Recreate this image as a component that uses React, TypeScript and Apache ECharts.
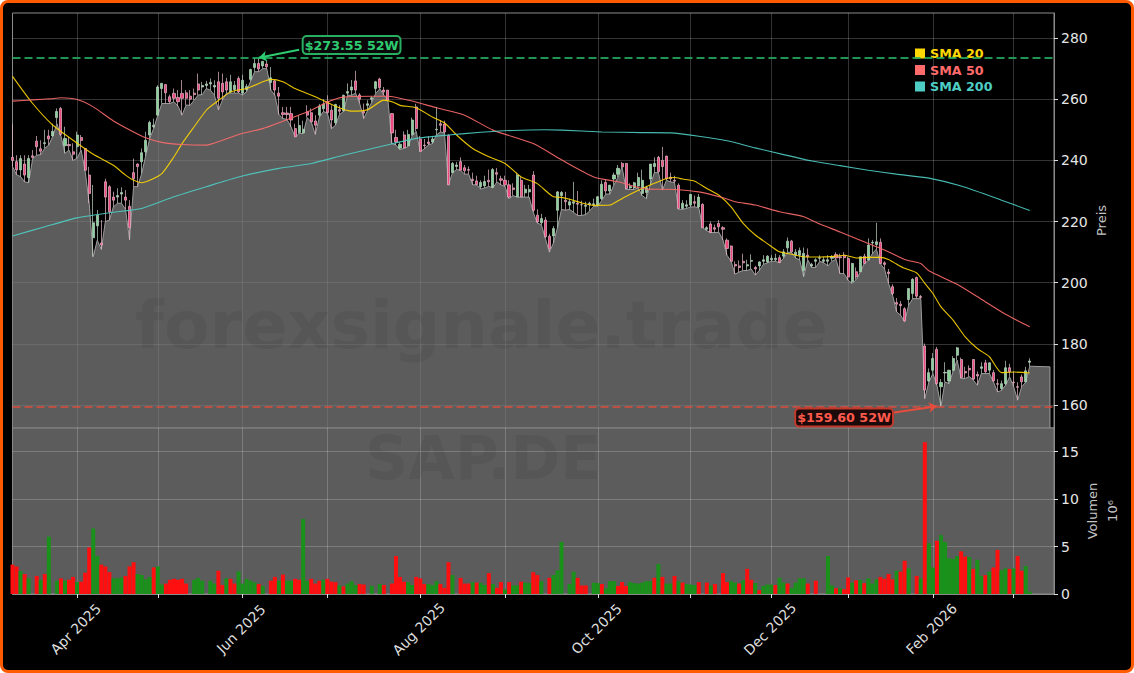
import { useEffect, useRef } from 'react';
import * as echarts from 'echarts';

// month ticks are positions in the list of trading days
const monthTicks = [16, 36, 57, 78, 101, 122, 145, 168, 188, 207, 228, 248];
const monthNames = ['Apr 2025', 'May 2025', 'Jun 2025', 'Jul 2025', 'Aug 2025', 'Sep 2025', 'Oct 2025', 'Nov 2025', 'Dec 2025', 'Jan 2026', 'Feb 2026', 'Mar 2026'];
const labelledMonths = [16, 57, 101, 145, 188, 228];
const dayCount = 259;

const priceTicks = [160, 180, 200, 220, 240, 260, 280];
const volumeTicks = [0, 5, 10, 15];

const high52 = 273.55;
const low52 = 159.6;

// open, high, low, close
const candles = [
  [241, 252, 238, 240], [239.6, 241.7, 235.3, 236.9], [236.9, 241.7, 234.7, 240.6], [238.8, 241.7, 233, 235.2], [234.4, 241.7, 232.7, 240.6],
  [241.5, 243.4, 240.6, 241], [246.3, 248, 241.7, 244.5], [243.8, 246.6, 241.9, 243], [245.5, 250, 244, 245.8], [248, 250, 245, 247],
  [248, 252, 248, 249.5], [254, 257, 252, 256], [257, 257.5, 248, 248.5], [244.8, 251, 242.3, 247.2], [245.2, 247.7, 243.4, 244.8],
  [242.8, 245.6, 240, 242], [244.5, 249.4, 240.7, 248.3], [247.5, 248.3, 243.4, 246.5], [243.9, 244, 236.5, 236.8], [235.2, 237.9, 226, 229.2],
  [214.7, 232, 208.5, 219.6], [218.6, 223.8, 213.9, 222.1], [213, 220.5, 210.9, 212.3], [233, 234, 220, 228], [231.4, 231.9, 220.5, 223.2],
  [228, 229.8, 224.8, 227], [228, 230.9, 226, 228.5], [229, 231.2, 226, 229.5], [228, 230.3, 224, 227], [225, 227, 214, 218],
  [236, 240.6, 231.4, 234], [238.8, 239, 231.4, 238], [239.6, 243.9, 235.7, 242.5], [242.8, 249.4, 241.5, 246.6], [248.3, 253, 247.2, 252.4],
  [251, 253.7, 250.5, 251.5], [254.8, 264.6, 254.8, 264], [263.5, 265.2, 258.6, 265.2], [264.8, 264.9, 258.6, 262.1], [260.8, 261.5, 258.6, 259.2],
  [261.9, 263.5, 259.2, 260.3], [260.6, 263, 257.8, 259.2], [261.9, 266.3, 254.8, 260.3], [262.1, 263, 258.1, 260.3], [261, 263, 258, 260],
  [262, 263.5, 259.7, 261.5], [265, 268.4, 261.4, 263], [264, 265.7, 261.5, 264.5], [264.5, 266, 263.5, 265], [265, 266.8, 263, 265.5],
  [264, 266.2, 261.4, 264.5], [265.7, 269, 256.5, 260.3], [265.2, 268.4, 259.7, 262.4], [265.7, 267, 262, 263], [262.4, 268, 262, 265.7],
  [263.2, 266, 262, 264.6], [266.8, 267.5, 262, 262.4], [262, 268, 261.4, 266.2], [263.2, 265, 262.5, 264.2], [266.5, 270, 266, 269.7],
  [270.4, 273.5, 269, 271.7], [271.7, 273.55, 269, 269.9], [270.9, 272.4, 270, 272.4], [271.5, 272.8, 270, 270.6], [265.5, 270.5, 263, 267],
  [266, 266.5, 261.3, 263], [262, 264, 255, 261], [255.6, 257.5, 253.7, 255], [255.5, 257.5, 253.4, 255], [255.3, 257.5, 251, 253.2],
  [250.4, 252, 247.7, 247.7], [249.1, 254.8, 248.8, 251.4], [249, 253, 248.8, 250.2], [255.9, 258, 254, 254.8], [255.6, 257, 252.6, 252.6],
  [252.9, 254.8, 248.5, 251.5], [254.8, 258.5, 254, 257.8], [256.9, 260, 256, 258.4], [259.2, 261.3, 255.5, 255.6], [256.4, 258, 250.4, 253.2],
  [252.3, 258.5, 251.5, 258.3], [256.6, 258, 255, 256.1], [256.2, 261.5, 256, 261.3], [262, 265.2, 261.3, 262.5], [263, 266.3, 261.3, 264],
  [266, 269.3, 262, 263], [261.4, 262, 258.6, 260], [256, 258.6, 253.7, 255.5], [258, 259.7, 256.4, 258.5], [260, 261, 259, 260.5],
  [263.5, 266, 262, 265.7], [266.6, 267, 263.4, 263.8], [263, 264, 261.3, 262.4], [263, 263, 259.7, 259.7], [255.3, 255.5, 245.5, 249],
  [247.5, 250, 245, 246], [244, 246, 243.5, 245.3], [248.3, 249.5, 244, 244.1], [244.8, 250, 244.5, 248.5], [248.5, 254, 248, 253.2],
  [257.5, 258.5, 249.5, 250.4], [247, 248, 242.8, 243], [245, 247, 243.8, 244.8], [246, 248, 245, 245.5], [246, 248, 245.5, 247],
  [250, 257.5, 248.3, 250.2], [252, 253.2, 249.3, 251.5], [251.9, 253, 249, 249.3], [248.2, 248.5, 232, 232], [236, 239.5, 236, 239],
  [238, 239.5, 237, 238.5], [239.6, 241, 236.8, 236.8], [237.6, 238.5, 235.5, 236.6], [237, 238, 235.5, 236.8], [233.8, 236, 232, 233.4],
  [233.3, 235, 232, 232.1], [231.4, 233.5, 230.6, 232.8], [231.7, 235, 231, 233.1], [233.5, 237, 231.5, 233], [231.2, 237.5, 231, 237],
  [236, 237.5, 233, 235.5], [234, 235, 232, 233.5], [233.5, 235, 231.5, 232], [232, 233.5, 227.5, 228], [231, 232.5, 228.5, 230.5],
  [228.1, 236, 228, 235.2], [233.5, 234.5, 228, 228.1], [229.4, 232, 228, 230.6], [229.7, 232, 228, 230.5], [235.2, 236.5, 223, 223.7],
  [222.1, 224, 219.5, 219.9], [219.6, 222.5, 219, 221], [220.5, 221.5, 214.5, 215], [215.2, 216, 210, 211.2], [215.3, 218.5, 213, 217.7],
  [223.7, 230, 218, 229.7], [228.5, 230, 224, 229.5], [227, 229.7, 223.7, 226.5], [225.4, 227.5, 224, 226.5], [226, 233, 223, 226.5],
  [226, 230, 222, 225.7], [225.5, 226.8, 222, 225.5], [225, 226.5, 222.3, 225.3], [225.5, 226.5, 223.5, 226], [225.5, 227.5, 225, 225.8],
  [225.4, 228.4, 225, 228.1], [227.5, 233.5, 227, 232.2], [232.8, 233.8, 229, 230], [230, 232, 229, 231.9], [233.9, 236, 232, 235.2],
  [235.5, 238.5, 234.5, 237.4], [239, 239.5, 237.9, 237.9], [239, 239.2, 230.5, 230.8], [231, 232.5, 230.5, 231.5], [231, 233, 230.5, 232.7],
  [231.6, 236, 231, 234.4], [229.2, 237, 228.5, 233.5], [229.5, 231.7, 227.5, 231.1], [233.9, 238.8, 232, 238.8], [238, 241, 236, 239],
  [241, 241.5, 236, 236.3], [240, 244.4, 230.3, 238], [241.4, 241.5, 233.5, 234], [234.5, 236, 233, 234], [233.5, 235, 232.7, 233.2],
  [231.9, 232.5, 224, 224.3], [224.3, 227, 224, 226], [225, 227, 224.3, 225.5], [225.4, 229, 224.8, 228.9], [226.5, 228.5, 224.8, 226],
  [224.8, 229, 224.5, 228], [225.6, 226, 218, 218], [217.5, 218.5, 217, 218], [219.2, 220, 216.4, 216.4], [218, 219, 216.4, 217.5],
  [219.4, 220.5, 216.5, 218.3], [218, 218.5, 214, 217.5], [213.9, 214.5, 209, 211.2], [212, 212.2, 207, 207], [206, 207, 202.8, 205.5],
  [205.5, 207.3, 203.5, 205], [207, 209.5, 204, 206.5], [205.5, 207.5, 204, 205.9], [207, 209.3, 204.5, 207.3], [205, 205.5, 202.5, 204.5],
  [205.5, 207, 204, 206.8], [207, 209, 206, 207.5], [206.8, 209, 206.5, 208.7], [207.5, 209, 207, 208], [207.5, 209.5, 207, 208],
  [208.2, 209, 206.5, 206.6], [208.7, 211, 208, 210.1], [211.4, 214.8, 210, 213.6], [213.6, 214, 209.9, 210.1], [209, 211, 208, 210],
  [209, 211.5, 207.5, 210.5], [203.9, 211.5, 202, 209.6], [209, 211.2, 207.5, 208.5], [205.5, 206.5, 205, 206], [207, 208, 205, 207.5],
  [208, 209, 207, 208.2], [207, 208.5, 206.5, 207.5], [207, 209, 205.5, 207.5], [208, 209, 207, 208.5], [209.2, 210, 207.7, 208.1],
  [208.5, 209.5, 203, 208.2], [209, 210, 203, 208.2], [207.9, 208.5, 200.8, 201.9], [200.3, 206.5, 199.8, 206.3], [203.6, 205, 201, 201.9],
  [203.6, 208.5, 203.5, 208.5], [208.7, 209.5, 206.3, 206.3], [207.4, 214.5, 207.3, 212.3], [213, 214, 209.5, 213.2], [212.5, 219.6, 211, 213.4],
  [213.2, 214.5, 206.2, 206.3], [206.5, 207, 204.5, 206], [203.5, 204.5, 199.8, 203], [198.7, 199.5, 196, 196.5], [193.5, 195, 190.5, 193],
  [193, 194, 189.4, 192.5], [191.5, 192, 187.3, 187.5], [194.5, 198, 192.7, 198.1], [196.5, 201.5, 194.8, 201.1], [201.7, 202, 194.8, 195.6],
  [195.5, 196, 194.8, 195.2], [179.3, 180.1, 162.1, 164.9], [167.9, 172, 167.5, 170.6], [171.4, 177, 170.3, 175.2], [178.2, 179, 166.5, 167],
  [166, 168.5, 159.6, 167.4], [170.5, 174, 167.6, 170.7], [167.9, 171.5, 167, 171.4], [171.4, 176, 171, 175.2], [176.3, 179, 174.7, 178.7],
  [174.9, 175.5, 168.7, 169], [171, 172.5, 168.7, 170.5], [172, 173, 169.3, 171.5], [174.9, 175, 168.2, 168.5], [170, 171, 166.5, 169.5],
  [172, 174, 170.3, 172.5], [173.8, 174.8, 170.3, 170.9], [171.4, 174, 170.3, 173.8], [170.6, 171.5, 167.6, 167.9], [167, 168.5, 164.3, 166.8],
  [165.4, 168, 164.8, 167], [167, 174.5, 166.5, 172.2], [172.2, 173.5, 169.2, 170.9], [167.5, 171, 166, 167.3], [166, 167.5, 161.6, 165.8],
  [169.2, 170, 166, 167.6], [167.6, 172.5, 167.5, 171.2], [174, 175.3, 172.7, 174.4],
];

// in millions, negative = red bar
const volumes = [
  -3.1, -2.9, 2.4, -2.1, 1.65, 0, -1.9, 1.5, -2.1, 6.05,
  0, 1.4, -1.65, 1.4, -1.5, -1.8, 1.25, -1.3, -2.25, -4.9,
  6.9, 4, -3.1, -2.9, -2.3, 1.65, 1.65, 1.75, -1.9, -2.9,
  -3.35, 2.1, 2, 1.55, 1.8, -2.8, 2.9, 1, -1.1, -1.5,
  -1.6, -1.5, -1.6, -1.1, 0, 1.5, 1.7, 1.4, 0, 1.4,
  1.1, -2.45, -0.95, 1.65, -1.6, -1.1, 2.4, 1.1, 1.6, 1.4,
  1.2, -1.05, 0.85, 0, -1.4, -1.8, 1.4, -2.05, 1.4, 1.4,
  -1.6, -1.5, 7.9, 1.4, -1.6, -1.1, -1.4, 1.5, -1.6, -1.3,
  -1.25, 0.9, -0.8, 1.1, 1.35, 0.95, -1.05, -1, 0, 0.85,
  0, 1.05, -0.95, 0, -1.1, -4, -1.8, -1.3, 1.25, 0.95,
  -1.8, -1.65, -1.05, 1.05, 0.95, 1.35, -1.05, -0.65, -3.35, 2,
  0, -1.7, -1.1, -1.1, 1.25, -1.2, 1.15, 0.95, -2.2, 1.05,
  -0.65, -1.25, 0.5, -1.25, 0.9, 0.9, -1.3, 1.2, 1.15, -2.3,
  -2, 1.35, 0, -1.7, 2, 2.5, 5.5, 0, 1.05, 2.35,
  -1.7, -0.9, -0.9, 0, 1.2, 1.15, -1.05, 0.6, 1.35, 1.35,
  -0.85, -1.25, -0.85, 1.25, 1.15, 1.1, 1.2, 1.35, 1.35, -1.7,
  3.15, -1.8, 1.1, 1.1, -1.9, 1.35, -1.2, 1.05, 1, 0.95,
  -1.25, 0, -1.2, 0.9, -1.05, 0, -2.2, -1.25, 1.35, 1.2,
  -1.1, 1.45, -2.65, -1.5, 1.15, -0.4, 0.85, 1, 1, -0.95,
  1.7, 1.2, -1.1, 0.65, 1.2, 1.65, 1.65, -1.1, 0, -1.4,
  0, 0, 4, 0.9, -0.6, 0.6, -0.5, -1.75, 1.2, -1.45,
  1.5, -1.15, 1.65, 1.1, 1.55, -1.8, -1.6, -2.1, -1.55, 2.45,
  -2.35, -3.5, 2.7, 0, -1.9, 1.65, -16, 5.35, 2.8, -5.6,
  6.2, 5.5, 3.75, 3.7, 4, -4.5, -3.95, 3.9, -2.65, 3.6,
  1.9, -2, 2.35, -2.8, -4.65, 2.5, 2.7, -2.65, 2.7, -4,
  -2.45, 2.95, 0.25,
];

// [day, value]
const sma20 = [
  [0, 267.5], [5, 258.6], [10, 251.5], [15, 246.6], [20, 242], [25, 238.4], [28, 235.2], [30, 233.5], [32, 232.7], [34, 233.5],
  [37, 235.7], [40, 241.2], [42, 245.5], [45, 251], [48, 256.4], [50, 258.6], [54, 262.4], [58, 263.5], [62, 265.7], [64, 266.5],
  [67, 265.7], [70, 263.5], [75, 260.8], [80, 257.7], [84, 256.1], [88, 256.6], [92, 259.7], [94, 259.2], [96, 258], [100, 257.2],
  [104, 254.2], [107, 252.3], [110, 248.3], [114, 243.9], [118, 241.2], [122, 239], [126, 234.6], [130, 232.4], [134, 228.1], [136, 227.9],
  [138, 227.3], [141, 226.1], [144, 225.3], [148, 225.4], [150, 226.8], [153, 228.9], [156, 230.8], [159, 232.5], [162, 234.1], [164, 234.4],
  [166, 233.9], [169, 233.2], [172, 230.8], [175, 228.6], [178, 224.8], [181, 219.4], [184, 215.6], [187, 212.8], [190, 210.1], [193, 209.3],
  [196, 208.5], [200, 208.4], [204, 208.7], [206, 209], [209, 208.1], [212, 208.3], [215, 208.3], [217, 207.6], [219, 206.1], [221, 204.7],
  [224, 203.2], [226, 199.8], [228, 196.5], [230, 192.1], [233, 187.8], [236, 182.3], [239, 178.5], [242, 175.8], [245, 170.6], [248, 170.8], [252, 170.5],
];
const sma50 = [
  [0, 259.4], [5, 259.8], [10, 260.2], [12, 260.5], [16, 259.9], [20, 257.5], [25, 252.9], [30, 249.3], [33, 247.4], [37, 245.9],
  [42, 245.2], [48, 245], [52, 246.6], [56, 248.5], [62, 250.4], [66, 252.3], [74, 256.4], [78, 259.1], [82, 260.7], [89, 261],
  [93, 261], [99, 259.4], [105, 257.2], [112, 254.8], [119, 249.9], [129, 245.5], [136, 240.2], [144, 234.6], [150, 233], [157, 230.6],
  [164, 230.5], [170, 229.7], [176, 227.8], [179, 226.5], [184, 225.4], [190, 223.2], [196, 221.6], [200, 219.2], [205, 216.6], [212, 212.8],
  [216, 210.7], [221, 207.6], [225, 206.3], [227, 203.9], [234, 199.5], [240, 194.6], [246, 189.7], [252, 185.6],
];
const sma200 = [
  [0, 215.3], [8, 218.3], [16, 221.2], [24, 222.9], [32, 224.3], [40, 228.1], [48, 231.4], [56, 234.6], [66, 237.4], [74, 239],
  [82, 241.7], [92, 244.8], [100, 247.2], [108, 248.3], [116, 249.2], [124, 249.8], [132, 250], [136, 249.9], [146, 249.3], [156, 249.1],
  [163, 249], [170, 247.9], [177, 246.4], [184, 244.1], [191, 241.9], [198, 239.8], [205, 238.3], [212, 236.8], [219, 235.5], [227, 234.2],
  [235, 231.6], [245, 227], [252, 223.6],
];

// the grey mountain runs along the lows and stays flat after the last day
const flatEndDay = 257;
const flatEndPrice = 172.5;

const gridLine = 'rgba(255,255,255,0.2)';
const frame = '#8a8a8a';
const font = 'DejaVu Sans';

export default function App() {
  const chartRef = useRef<HTMLDivElement>(null);

  useEffect(() => {
    document.body.style.margin = '0';
    const chart = echarts.init(chartRef.current, null, { renderer: 'svg' });
    const days = Array.from({ length: dayCount }, (_, i) => {
      const m = monthTicks.indexOf(i);
      return m >= 0 ? monthNames[m] : String(i);
    });
    const mountain = candles.map((c, i) => [i, c[2]]);
    mountain.push([flatEndDay, flatEndPrice], [flatEndDay, 152.5]);

    const splitLine = { show: true, lineStyle: { color: gridLine, width: 1 } };
    const badge = (text: string, color: string, border: string, bg: string) => ({
      show: true,
      position: 'inside',
      formatter: text,
      color,
      fontFamily: font,
      fontWeight: 'bold',
      fontSize: 12.7,
      backgroundColor: bg,
      borderColor: border,
      borderWidth: 2,
      borderRadius: 3,
      padding: [2, 1, 1, 1],
    });

    chart.setOption({
      animation: false,
      backgroundColor: 'transparent',
      textStyle: { fontFamily: font },
      legend: {
        left: 915,
        top: 47,
        orient: 'vertical',
        icon: 'rect',
        itemWidth: 10,
        itemHeight: 10,
        itemGap: 3.5,
        selectedMode: false,
        padding: 0,
        data: [
          { name: 'SMA 20', textStyle: { color: '#ffd700' } },
          { name: 'SMA 50', textStyle: { color: '#ff6b6b' } },
          { name: 'SMA 200', textStyle: { color: '#4ecdc4' } },
        ],
        textStyle: { fontWeight: 'bold', fontSize: 12.7, fontFamily: font },
      },
      grid: [
        { left: 12.5, right: 80, top: 13, height: 415, show: true, backgroundColor: '#000', borderColor: frame, borderWidth: 1, outerBoundsMode: 'none' },
        { left: 12.5, right: 80, top: 428, height: 166, show: true, backgroundColor: '#5c5c5c', borderColor: frame, borderWidth: 1, outerBoundsMode: 'none' },
      ],
      xAxis: [
        {
          type: 'category', gridIndex: 0, data: days, boundaryGap: false, min: 0, max: dayCount - 1, containShape: false,
          axisLine: { show: false },
          axisTick: { show: false, customValues: monthTicks },
          axisLabel: { show: false, customValues: monthTicks },
          splitLine,
        },
        {
          type: 'category', gridIndex: 1, data: days, boundaryGap: false, min: 0, max: dayCount - 1, containShape: false,
          axisLine: { lineStyle: { color: frame } },
          axisTick: { length: 4, lineStyle: { color: '#ddd' }, customValues: monthTicks },
          axisLabel: {
            customValues: labelledMonths, rotate: 45, align: 'center', verticalAlign: 'middle',
            margin: 33.5, padding: [0, 4, 0, 0], color: '#ddd', fontSize: 14, fontFamily: font,
          },
          splitLine,
        },
      ],
      yAxis: [
        {
          type: 'value', gridIndex: 0, position: 'right', min: 152.5, max: 288.2, scale: true,
          name: 'Preis', nameLocation: 'middle', nameRotate: 90, nameGap: 41, nameMoveOverlap: false,
          nameTextStyle: { color: '#c4c4c4', fontSize: 13, fontFamily: font },
          axisLine: { show: true, lineStyle: { color: frame } },
          axisTick: { show: true, length: 4, lineStyle: { color: '#ddd' }, customValues: priceTicks },
          axisLabel: { customValues: priceTicks, color: '#e6e6e6', fontSize: 14, margin: 7, fontFamily: font },
          splitLine,
        },
        {
          type: 'value', gridIndex: 1, position: 'right', min: 0, max: 17.5,
          name: 'Volumen\n10⁶', nameLocation: 'middle', nameRotate: 90, nameGap: 28, nameMoveOverlap: false,
          nameTextStyle: { color: '#c4c4c4', fontSize: 13, lineHeight: 20, align: 'center', fontFamily: font },
          axisLine: { show: true, lineStyle: { color: frame } },
          axisTick: { show: true, length: 4, lineStyle: { color: '#ddd' }, customValues: volumeTicks },
          axisLabel: { customValues: volumeTicks, color: '#e6e6e6', fontSize: 14, margin: 7, fontFamily: font },
          splitLine,
        },
      ],
      graphic: [
        {
          type: 'text', left: 135, top: 291, z: 2, silent: true,
          style: { text: 'forexsignale.trade', font: 'bold 66.5px "DejaVu Sans"', fill: 'rgba(0,0,0,0.06)' },
        },
        {
          type: 'text', left: 365, top: 428, z: 2, silent: true,
          style: { text: 'SAP.DE', font: 'bold 60px "DejaVu Sans"', fill: 'rgba(0,0,0,0.06)' },
        },
      ],
      series: [
        {
          name: 'Tief', type: 'line', xAxisIndex: 0, yAxisIndex: 0, z: 1, data: mountain, showSymbol: false,
          lineStyle: { color: '#9c9c9c', width: 1 },
          areaStyle: { color: 'rgb(128,128,128)', opacity: 0.72, origin: 'start' },
        },
        {
          name: 'Kurs', type: 'candlestick', xAxisIndex: 0, yAxisIndex: 0, z: 3, barWidth: 2.6,
          data: candles.map(([o, h, l, c]) => [o, c, l, h]),
          itemStyle: {
            color: '#86d398', color0: '#ee4a7e', borderColor: '#c2d4c6', borderColor0: '#e6bccb',
            borderColorDoji: '#cccccc', borderWidth: 0.7,
          },
        },
        { name: 'SMA 20', type: 'line', xAxisIndex: 0, yAxisIndex: 0, z: 4, data: sma20, showSymbol: false, smooth: 0.2, color: '#ffd700', lineStyle: { width: 1.1, opacity: 0.9 } },
        { name: 'SMA 50', type: 'line', xAxisIndex: 0, yAxisIndex: 0, z: 4, data: sma50, showSymbol: false, smooth: 0.2, color: '#ff6b6b', lineStyle: { width: 1.1, opacity: 0.9 } },
        { name: 'SMA 200', type: 'line', xAxisIndex: 0, yAxisIndex: 0, z: 4, data: sma200, showSymbol: false, smooth: 0.2, color: '#4ecdc4', lineStyle: { width: 1.1, opacity: 0.9 } },
        {
          name: '52W', type: 'line', xAxisIndex: 0, yAxisIndex: 0, z: 5, data: [], showSymbol: false,
          markLine: {
            silent: true, symbol: ['none', 'none'], label: { show: false }, animation: false,
            data: [
              { yAxis: high52, lineStyle: { color: '#27ae60', type: [8, 4], width: 2, opacity: 0.85 } },
              { yAxis: low52, lineStyle: { color: '#e74c3c', type: [8, 4], width: 2, opacity: 0.7 } },
              [
                { coord: [71, 276.2], symbol: 'none', lineStyle: { color: '#2ecc71', width: 2, type: 'solid' } },
                { coord: [61, high52], symbol: 'arrow', symbolSize: 8 },
              ],
              [
                { coord: [218, 157.5], symbol: 'none', lineStyle: { color: '#e74c3c', width: 2, type: 'solid' } },
                { coord: [229, low52], symbol: 'arrow', symbolSize: 8 },
              ],
            ],
          },
          markPoint: {
            silent: true, symbol: 'rect', symbolSize: 1, itemStyle: { color: 'transparent' }, animation: false,
            data: [
              { coord: [84, 277.7], label: badge('$273.55 52W', '#2ecc71', '#27ae60', '#0a0a0a') },
              { coord: [206, 155.9], label: badge('$159.60 52W', '#ff5a4d', '#c0392b', '#1c0a0a') },
            ],
          },
        },
        {
          name: 'Volumen', type: 'bar', xAxisIndex: 1, yAxisIndex: 1, z: 3, barWidth: 4,
          data: volumes.map((v) => ({ value: Math.abs(v), itemStyle: { color: v < 0 ? '#ff0f0f' : '#1a911a' } })),
        },
      ],
    });
    return () => chart.dispose();
  }, []);

  return (
    <div style={{ position: 'fixed', left: 0, top: 0, width: 1134, height: 673, boxSizing: 'border-box', background: '#000', border: '3px solid #ff5a00', borderRadius: 8 }}>
      <div ref={chartRef} style={{ position: 'absolute', left: -3, top: -3, width: 1134, height: 673 }} />
    </div>
  );
}
